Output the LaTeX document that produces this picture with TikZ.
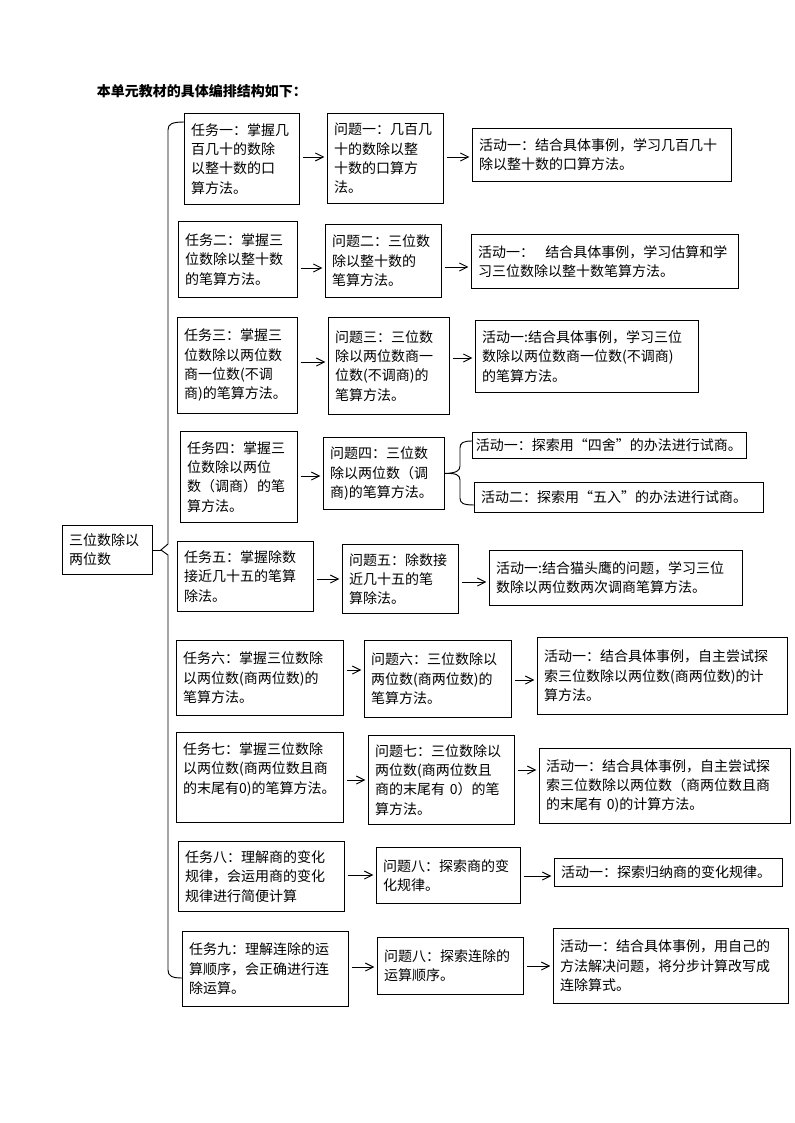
\documentclass[tikz,border=0pt]{standalone}
\usepackage{fontspec}
\setmainfont{Noto Sans CJK SC}
\usepackage{tikz}
\usetikzlibrary{calc}
\usetikzlibrary{arrows.meta}

\begin{document}
\begin{tikzpicture}[x=0.75pt, y=-0.75pt, line width=0.7pt]
   \tikzset{cell/.style 2 args={draw, anchor=north west, align=left, inner xsep=5pt, inner ysep=0pt,
      font=\fontsize{10.5pt}{14.5pt}\selectfont, text width=#1*0.75pt-10pt, minimum height=#2*0.75pt}}
   \tikzset{celltight/.style 2 args={cell={#1}{#2}, inner xsep=2.5pt, text width=#1*0.75pt-5pt}}
   \tikzstyle{arr}=[-{Straight Barb[length=6pt,width=6pt]}, shorten <=2pt, shorten >=2pt]
   \useasboundingbox (0,0) rectangle (794,1123);

   % Writing comments
   \draw (92,91) node[anchor=west, font=\fontsize{10.5pt}{14.5pt}\selectfont\bfseries] (title) {本单元教材的具体编排结构如下：};
   % root node
   \draw (62,525) node[cell={90}{49}] (root) {三位数除以\\两位数};
   \path (root.east) ++(8,0) coordinate (tip);

   % task nodes
   \draw (184,113) node[cell={115}{91}] (t1) {任务一：掌握几\\百几十的数除\\以整十数的口\\算方法。};
   \draw (178,221) node[cell={119}{76}] (t2) {任务二：掌握三\\位数除以整十数\\的笔算方法。};
   \draw (177,317) node[cell={120}{96}] (t3) {任务三：掌握三\\位数除以两位数\\商一位数(不调\\商)的笔算方法。};
   \draw (180,431) node[cell={117}{91}] (t4) {任务四：掌握三\\位数除以两位\\数（调商）的笔\\算方法。};
   \draw (177,541) node[cell={136}{70}] (t5) {任务五：掌握除数\\接近几十五的笔算\\除法。};
   \draw (176,640) node[cell={167}{75}] (t6) {任务六：掌握三位数除\\以两位数(商两位数)的\\笔算方法。};
   \draw (176,732) node[cell={167}{90}] (t7) {任务七：掌握三位数除\\以两位数(商两位数且商\\的末尾有0)的笔算方法。\\\mbox{}};
   \draw (178,841) node[cell={166}{70}] (t8) {任务八：理解商的变化\\规律，会运用商的变化\\规律进行简便计算};
   \draw (182,931) node[cell={166}{75}] (t9) {任务九：理解连除的运\\算顺序，会正确进行连\\除运算。};

   % question nodes
   \draw (327,113) node[cell={116}{90}] (q1) {问题一：几百几\\十的数除以整\\十数的口算方\\法。};
   \draw (325,224) node[cell={116}{73}] (q2) {问题二：三位数\\除以整十数的\\笔算方法。};
   \draw (328,317) node[cell={121}{97}] (q3) {问题三：三位数\\除以两位数商一\\位数(不调商)的\\笔算方法。};
   \draw (323,437) node[cell={121}{72}] (q4) {问题四：三位数\\除以两位数（调\\商)的笔算方法。};
   \draw (342,544) node[cell={116}{69}] (q5) {问题五：除数接\\近几十五的笔\\算除法。};
   \draw (364,640) node[cell={147}{77}] (q6) {问题六：三位数除以\\两位数(商两位数)的\\笔算方法。};
   \draw (368,735) node[cell={146}{89}] (q7) {问题七：三位数除以\\两位数(商两位数且\\商的末尾有 0）的笔\\算方法。};
   \draw (376,847) node[cell={144}{56}] (q8) {问题八：探索商的变\\化规律。};
   \draw (377,937) node[cell={146}{57}] (q9) {问题八：探索连除的\\运算顺序。};

   % activity nodes
   \draw (472,128) node[cell={259}{53}] (a1) {活动一：结合具体事例，学习几百几十\\除以整十数的口算方法。};
   \draw (471,234) node[cell={267}{54}] (a2) {活动一：\kern0.8em 结合具体事例，学习估算和学\\习三位数除以整十数笔算方法。};
   \draw (475,320) node[cell={223}{72}] (a3) {活动一:结合具体事例，学习三位\\数除以两位数商一位数(不调商)\\的笔算方法。};
   \draw (472,432) node[celltight={274}{26}] (a4a) {活动一：探索用“四舍”的办法进行试商。};
   \draw (474,482) node[cell={289}{30}] (a4b) {活动二：探索用“五入”的办法进行试商。};
   \draw (489,550) node[cell={253}{55}] (a5) {活动一:结合猫头鹰的问题，学习三位\\数除以两位数两次调商笔算方法。};
   \draw (537,637) node[cell={250}{77}] (a6) {活动一：结合具体事例，自主尝试探\\索三位数除以两位数(商两位数)的计\\算方法。};
   \draw (539,748) node[cell={251}{75}] (a7) {活动一：结合具体事例，自主尝试探\\索三位数除以两位数（商两位数且商\\的末尾有 0)的计算方法。};
   \draw (554,858) node[cell={228}{28}] (a8) {活动一：探索归纳商的变化规律。};
   \draw (553,928) node[cell={235}{75}] (a9) {活动一：结合具体事例，用自己的\\方法解决问题，将分步计算改写成\\连除算式。};

   % big brace
   \draw (root.east) -- (tip);
   \draw (t1.west |- 0,122) .. controls (172,122) and (168,124) .. (168,130) -- (168,544) -- (tip)
      -- (168,555) -- (168,970) .. controls (168,976) and (172,978) .. (t9.west |- 0,978);
   % small brace
   \draw (a4a.west |- 0,441) .. controls (463,441) and (460,443) .. (460,448) -- (460,466)
      .. controls (460,471) and (456,473) .. (q4.east) .. controls (456,473) and (460,475) .. (460,480)
      -- (460,498) .. controls (460,503) and (463,505) .. (a4b.west |- 0,505);

   % task to question
   \draw[arr] (t1.east |- 0,157) -- (q1.west |- 0,157);
   \draw[arr] (t2.east |- 0,268) -- (q2.west |- 0,268);
   \draw[arr] (t3.east |- 0,362) -- (q3.west |- 0,362);
   \draw[arr] (t4.east |- 0,476) -- (q4.west |- 0,476);
   \draw[arr] (t5.east |- 0,579) -- (q5.west |- 0,579);
   \draw[arr] (t6.east |- 0,670) -- (q6.west |- 0,670);
   \draw[arr] (t7.east |- 0,780) -- (q7.west |- 0,780);
   \draw[arr] (t8.east |- 0,875) -- (q8.west |- 0,875);
   \draw[arr] (t9.east |- 0,967) -- (q9.west |- 0,967);
   % question to activity
   \draw[arr] (q1.east |- 0,157) -- (a1.west |- 0,157);
   \draw[arr] (q2.east |- 0,267) -- (a2.west |- 0,267);
   \draw[arr] (q3.east |- 0,358) -- (a3.west |- 0,358);
   \draw[arr] (q5.east |- 0,582) -- (a5.west |- 0,582);
   \draw[arr] (q6.east |- 0,680) -- (a6.west |- 0,680);
   \draw[arr] (q7.east |- 0,770) -- (a7.west |- 0,770);
   \draw[arr] (q8.east |- 0,876) -- (a8.west |- 0,876);
   \draw[arr] (q9.east |- 0,966) -- (a9.west |- 0,966);
\end{tikzpicture}
\end{document}
